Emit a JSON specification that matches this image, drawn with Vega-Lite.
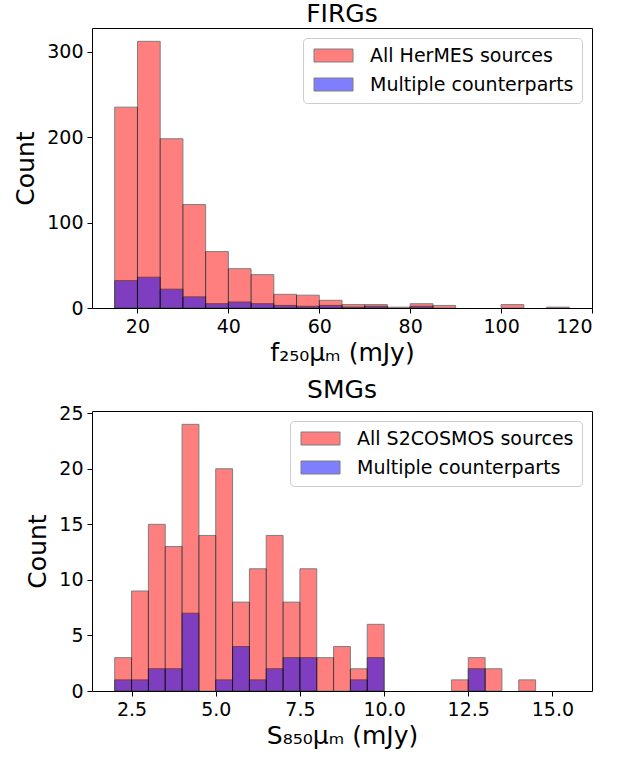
{
  "$schema": "https://vega.github.io/schema/vega-lite/v6.json",
  "background": "white",
  "padding": {"left": 13, "top": 1, "right": 10, "bottom": 5},
  "bounds": "flush",
  "spacing": 103,
  "resolve": {"scale": {"color": "independent"}, "legend": {"color": "independent"}},
  "config": {
    "font": "DejaVu Sans",
    "view": {"stroke": "black", "strokeWidth": 1},
    "axis": {"grid": false, "domain": false, "ticks": true, "tickColor": "black", "tickSize": 5, "tickWidth": 1, "labelFont": "DejaVu Sans", "labelFontSize": 19, "labelColor": "black", "labelPadding": 4, "titleFont": "DejaVu Sans", "titleFontSize": 25, "titleFontWeight": "normal", "titleColor": "black"},
    "axisY": {"titlePadding": 8},
    "axisX": {"titlePadding": 4},
    "title": {"font": "DejaVu Sans", "fontSize": 25, "fontWeight": "normal", "color": "black", "offset": 1},
    "legend": {"orient": "top-right", "offset": 10, "labelFont": "DejaVu Sans", "labelFontSize": 19, "labelColor": "black", "labelLimit": 400, "symbolType": "M-1,-1H5V1H-1Z", "symbolSize": 169, "symbolOpacity": 0.5, "symbolStrokeColor": "black", "symbolStrokeWidth": 1, "fillColor": "rgba(255,255,255,0.8)", "strokeColor": "#cccccc", "cornerRadius": 4, "padding": 8, "rowPadding": 9, "labelOffset": 40}
  },
  "vconcat": [
    {
      "title": "FIRGs",
      "width": 500,
      "height": 280,
      "data": {"values": [
        {"lo": 15, "hi": 20, "n": 235, "s": "All HerMES sources"},
        {"lo": 20, "hi": 25, "n": 312, "s": "All HerMES sources"},
        {"lo": 25, "hi": 30, "n": 198, "s": "All HerMES sources"},
        {"lo": 30, "hi": 35, "n": 121, "s": "All HerMES sources"},
        {"lo": 35, "hi": 40, "n": 66, "s": "All HerMES sources"},
        {"lo": 40, "hi": 45, "n": 46, "s": "All HerMES sources"},
        {"lo": 45, "hi": 50, "n": 39, "s": "All HerMES sources"},
        {"lo": 50, "hi": 55, "n": 16, "s": "All HerMES sources"},
        {"lo": 55, "hi": 60, "n": 15, "s": "All HerMES sources"},
        {"lo": 60, "hi": 65, "n": 9, "s": "All HerMES sources"},
        {"lo": 65, "hi": 70, "n": 4, "s": "All HerMES sources"},
        {"lo": 70, "hi": 75, "n": 4, "s": "All HerMES sources"},
        {"lo": 75, "hi": 80, "n": 1, "s": "All HerMES sources"},
        {"lo": 80, "hi": 85, "n": 5, "s": "All HerMES sources"},
        {"lo": 85, "hi": 90, "n": 3, "s": "All HerMES sources"},
        {"lo": 100, "hi": 105, "n": 4, "s": "All HerMES sources"},
        {"lo": 110, "hi": 115, "n": 1, "s": "All HerMES sources"},
        {"lo": 15, "hi": 20, "n": 32, "s": "Multiple counterparts"},
        {"lo": 20, "hi": 25, "n": 36, "s": "Multiple counterparts"},
        {"lo": 25, "hi": 30, "n": 22, "s": "Multiple counterparts"},
        {"lo": 30, "hi": 35, "n": 13, "s": "Multiple counterparts"},
        {"lo": 35, "hi": 40, "n": 5, "s": "Multiple counterparts"},
        {"lo": 40, "hi": 45, "n": 7, "s": "Multiple counterparts"},
        {"lo": 45, "hi": 50, "n": 5, "s": "Multiple counterparts"},
        {"lo": 50, "hi": 55, "n": 3, "s": "Multiple counterparts"},
        {"lo": 55, "hi": 60, "n": 2, "s": "Multiple counterparts"},
        {"lo": 60, "hi": 65, "n": 3, "s": "Multiple counterparts"},
        {"lo": 65, "hi": 70, "n": 1, "s": "Multiple counterparts"},
        {"lo": 70, "hi": 75, "n": 2, "s": "Multiple counterparts"},
        {"lo": 80, "hi": 85, "n": 2, "s": "Multiple counterparts"}
      ]},
      "mark": {"type": "bar", "opacity": 0.5, "stroke": "black", "strokeWidth": 1},
      "encoding": {
        "x": {"field": "lo", "type": "quantitative", "scale": {"domain": [10, 120], "nice": false, "zero": false}, "axis": {"values": [20, 40, 60, 80, 100, 120], "title": "f₂₅₀μₘ (mJy)"}},
        "x2": {"field": "hi"},
        "y": {"field": "n", "type": "quantitative", "stack": null, "scale": {"domain": [0, 327.6], "nice": false}, "axis": {"values": [0, 100, 200, 300], "title": "Count"}},
        "y2": {"datum": 0},
        "color": {"field": "s", "type": "nominal", "scale": {"domain": ["All HerMES sources", "Multiple counterparts"], "range": ["red", "blue"]}, "legend": {"title": null}}
      }
    },
    {
      "title": "SMGs",
      "width": 500,
      "height": 280,
      "data": {"values": [
        {"lo": 2.0, "hi": 2.5, "n": 3, "s": "All S2COSMOS sources"},
        {"lo": 2.5, "hi": 3.0, "n": 9, "s": "All S2COSMOS sources"},
        {"lo": 3.0, "hi": 3.5, "n": 15, "s": "All S2COSMOS sources"},
        {"lo": 3.5, "hi": 4.0, "n": 13, "s": "All S2COSMOS sources"},
        {"lo": 4.0, "hi": 4.5, "n": 24, "s": "All S2COSMOS sources"},
        {"lo": 4.5, "hi": 5.0, "n": 14, "s": "All S2COSMOS sources"},
        {"lo": 5.0, "hi": 5.5, "n": 20, "s": "All S2COSMOS sources"},
        {"lo": 5.5, "hi": 6.0, "n": 8, "s": "All S2COSMOS sources"},
        {"lo": 6.0, "hi": 6.5, "n": 11, "s": "All S2COSMOS sources"},
        {"lo": 6.5, "hi": 7.0, "n": 14, "s": "All S2COSMOS sources"},
        {"lo": 7.0, "hi": 7.5, "n": 8, "s": "All S2COSMOS sources"},
        {"lo": 7.5, "hi": 8.0, "n": 11, "s": "All S2COSMOS sources"},
        {"lo": 8.0, "hi": 8.5, "n": 3, "s": "All S2COSMOS sources"},
        {"lo": 8.5, "hi": 9.0, "n": 4, "s": "All S2COSMOS sources"},
        {"lo": 9.0, "hi": 9.5, "n": 2, "s": "All S2COSMOS sources"},
        {"lo": 9.5, "hi": 10.0, "n": 6, "s": "All S2COSMOS sources"},
        {"lo": 12.0, "hi": 12.5, "n": 1, "s": "All S2COSMOS sources"},
        {"lo": 12.5, "hi": 13.0, "n": 3, "s": "All S2COSMOS sources"},
        {"lo": 13.0, "hi": 13.5, "n": 2, "s": "All S2COSMOS sources"},
        {"lo": 14.0, "hi": 14.5, "n": 1, "s": "All S2COSMOS sources"},
        {"lo": 2.0, "hi": 2.5, "n": 1, "s": "Multiple counterparts"},
        {"lo": 2.5, "hi": 3.0, "n": 1, "s": "Multiple counterparts"},
        {"lo": 3.0, "hi": 3.5, "n": 2, "s": "Multiple counterparts"},
        {"lo": 3.5, "hi": 4.0, "n": 2, "s": "Multiple counterparts"},
        {"lo": 4.0, "hi": 4.5, "n": 7, "s": "Multiple counterparts"},
        {"lo": 5.0, "hi": 5.5, "n": 1, "s": "Multiple counterparts"},
        {"lo": 5.5, "hi": 6.0, "n": 4, "s": "Multiple counterparts"},
        {"lo": 6.0, "hi": 6.5, "n": 1, "s": "Multiple counterparts"},
        {"lo": 6.5, "hi": 7.0, "n": 2, "s": "Multiple counterparts"},
        {"lo": 7.0, "hi": 7.5, "n": 3, "s": "Multiple counterparts"},
        {"lo": 7.5, "hi": 8.0, "n": 3, "s": "Multiple counterparts"},
        {"lo": 9.0, "hi": 9.5, "n": 1, "s": "Multiple counterparts"},
        {"lo": 9.5, "hi": 10.0, "n": 3, "s": "Multiple counterparts"},
        {"lo": 12.5, "hi": 13.0, "n": 2, "s": "Multiple counterparts"}
      ]},
      "mark": {"type": "bar", "opacity": 0.5, "stroke": "black", "strokeWidth": 1},
      "encoding": {
        "x": {"field": "lo", "type": "quantitative", "scale": {"domain": [1.325, 16.175], "nice": false, "zero": false}, "axis": {"values": [2.5, 5, 7.5, 10, 12.5, 15], "format": ".1f", "title": "S₈₅₀μₘ (mJy)"}},
        "x2": {"field": "hi"},
        "y": {"field": "n", "type": "quantitative", "stack": null, "scale": {"domain": [0, 25.2], "nice": false}, "axis": {"values": [0, 5, 10, 15, 20, 25], "title": "Count"}},
        "y2": {"datum": 0},
        "color": {"field": "s", "type": "nominal", "scale": {"domain": ["All S2COSMOS sources", "Multiple counterparts"], "range": ["red", "blue"]}, "legend": {"title": null}}
      }
    }
  ]
}
